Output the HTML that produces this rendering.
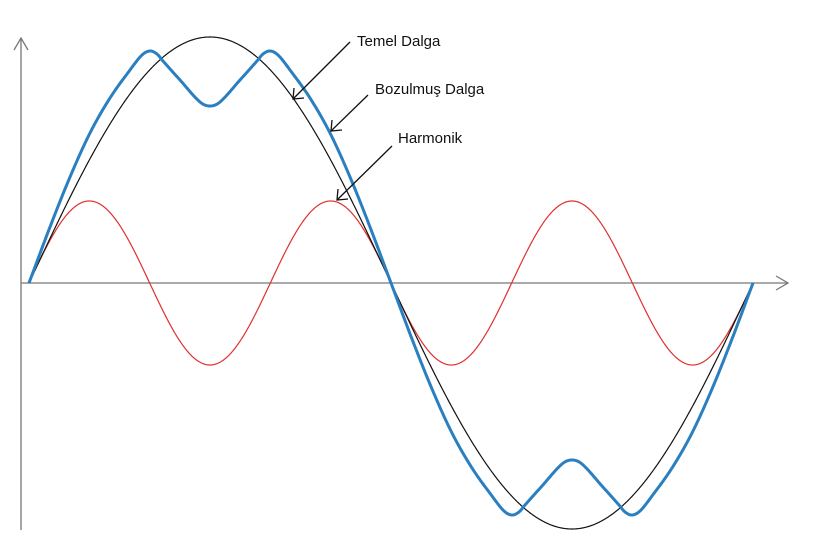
<!DOCTYPE html>
<html><head><meta charset="utf-8"><style>
html,body{margin:0;padding:0;background:#fff;}
svg{display:block;}
text{font-family:"Liberation Sans",sans-serif;font-size:15px;fill:#111;}
</style></head><body>
<svg id="s" width="813" height="556" viewBox="0 0 813 556">
<g stroke="#777" stroke-width="1.3" fill="none">
<line x1="21" y1="38" x2="21" y2="530"/>
<polyline points="14,50 21,38 28,50"/>
<line x1="21" y1="283" x2="788" y2="283"/>
<polyline points="776,276 788,283 776,290"/>
</g>
<path id="h" fill="none" stroke="#e0302f" stroke-width="1.2"/>
<path id="f" fill="none" stroke="#111" stroke-width="1.2"/>
<path id="b" fill="none" stroke="#2a7fc1" stroke-width="3"/>
<g stroke="#111" stroke-width="1.3" fill="none">
<line x1="350" y1="42" x2="293" y2="99"/><polyline points="294,88 293,99 304,98"/>
<line x1="368" y1="95" x2="331" y2="131"/><polyline points="332,120 331,131 342,130"/>
<line x1="392" y1="146" x2="337" y2="200"/><polyline points="338,189 337,200 348,199"/>
</g>
<text x="357" y="46">Temel Dalga</text>
<text x="375" y="94">Bozulmuş Dalga</text>
<text x="398" y="143">Harmonik</text>
</svg>
<script>
var x0=29,y0=283;
function mk(fn){var d="";for(var i=0;i<=724;i++){var y=y0-fn(i);d+=(i?"L":"M")+(x0+i).toFixed(1)+","+y.toFixed(2);}return d;}
document.getElementById("f").setAttribute("d",mk(function(u){return 246*Math.sin(u/724*2*Math.PI);}));
document.getElementById("h").setAttribute("d",mk(function(u){return 82*Math.sin(3*u/724*2*Math.PI);}));
var P=[[-21,-56],[0,0],[21,56],[41,106],[61,150],[81,185],[101,213],[113,228],[121,232],[128,229],[134,222],[151,203],[171,181],[181,177],[191,181],[211,203]];
function cr(u){
  for(var k=1;k<P.length-2;k++){
    if(u<=P[k+1][0]){
      var p0=P[k-1],p1=P[k],p2=P[k+1],p3=P[k+2];
      var t=(u-p1[0])/(p2[0]-p1[0]);
      var h=p2[0]-p1[0];
      var m1=(p2[1]-p0[1])/(p2[0]-p0[0])*h, m2=(p3[1]-p1[1])/(p3[0]-p1[0])*h;
      var t2=t*t,t3=t2*t;
      return (2*t3-3*t2+1)*p1[1]+(t3-2*t2+t)*m1+(-2*t3+3*t2)*p2[1]+(t3-t2)*m2;
    }
  }
  return 177;
}
function blue(u){
  var s=1; if(u>362){u-=362;s=-1;}
  if(u>181)u=362-u;
  return s*cr(u);
}
document.getElementById("b").setAttribute("d",mk(blue));
</script>
</body></html>
